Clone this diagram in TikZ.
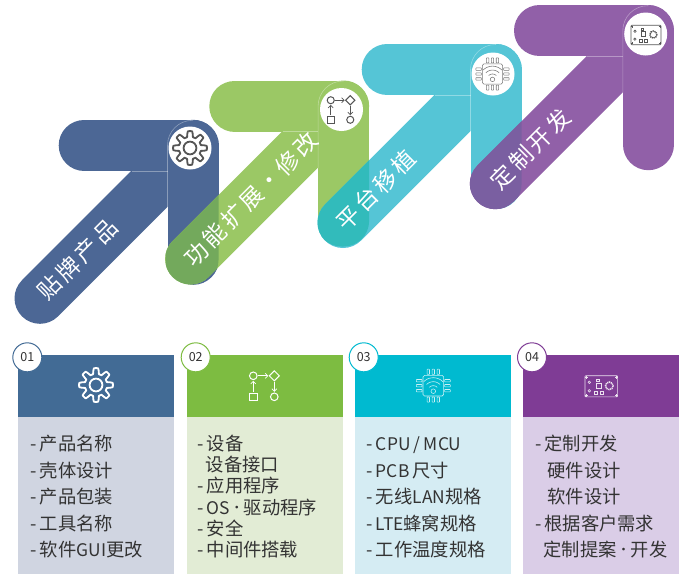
\documentclass[tikz,border=0pt]{standalone}
\usepackage{fontspec}
\setmainfont[WordSpace=0.7]{Noto Sans CJK SC}
\newfontfamily\labelfont[LetterSpace=14]{Noto Sans CJK SC}
\newfontfamily\latfont[Scale=0.95,WordSpace=0.85]{Noto Sans CJK SC}
\newcommand\lt[1]{{\latfont #1}}
\newcommand\middot{\makebox[14pt]{\raisebox{1.8pt}{\fontsize{13}{13}\selectfont •}}}
\usetikzlibrary{arrows.meta}
\definecolor{blueA}{HTML}{4C6795}
\definecolor{greenA}{HTML}{9BC865}
\definecolor{tealA}{HTML}{55C5D6}
\definecolor{purpA}{HTML}{9160A8}
\definecolor{ovGreen}{HTML}{73A95C}
\definecolor{ovTeal}{HTML}{32BBBB}
\definecolor{ovPurp}{HTML}{7A5FA1}
\definecolor{headA}{HTML}{426B95}
\definecolor{headB}{HTML}{7DBC41}
\definecolor{headC}{HTML}{00BAD0}
\definecolor{headD}{HTML}{7F3C95}
\definecolor{bodyA}{HTML}{D0D5E1}
\definecolor{bodyB}{HTML}{E2ECD5}
\definecolor{bodyC}{HTML}{D5ECF3}
\definecolor{bodyD}{HTML}{DACDE7}
\definecolor{ink}{HTML}{333333}
\definecolor{iconGray}{HTML}{555555}
\tikzset{
  band/.style={line width=51pt,line cap=round,line join=round},
  seam/.style={draw=white,draw opacity=.35,line width=.6pt},
  slogan/.style={text=white,rotate=45,font=\labelfont\fontsize{23}{23}\selectfont,inner sep=0pt},
  itemtext/.style={text=ink,anchor=base west,font=\fontsize{18.3}{18.3}\selectfont,inner sep=0pt},
  badge/.style={circle,fill=white,line width=1pt,minimum size=29pt,inner sep=0pt,text=ink,font=\fontsize{12.5}{12.5}\selectfont},
  iconcircle/.style={circle,fill=white,minimum size=43pt,inner sep=0pt},
  arrowline/.style={-{Straight Barb[length=2.6pt,width=5pt]}}
}
% corner x, corner y, colour
\newcommand\bandshape[3]{%
  \draw[band,#3] ({#1-108.8},#2) -- (#1,#2) -- (#1,{#2+114});
  \draw[band,#3] ({#1-153},{#2+153}) -- (#1,#2);
}
\newcommand\bandseam[2]{%
  \draw[seam] ({#1-61},{#2+25.5}) -- ({#1-25.5},{#2+25.5});
  \draw[seam,rounded corners=25pt] ({#1-25.5},{#2+62}) -- ({#1-25.5},{#2-25}) -- (#1,{#2-25});
}
% previous corner x,y ; own corner x,y ; overlap colour
\newcommand\bandoverlap[5]{%
  \begin{scope}
    \clip[rounded corners=25.5pt] ({#1-27.5},{#2-25.5}) rectangle ({#1+25.5},{#2+140.5});
    \draw[band,#5] ({#3-153},{#4+153}) -- (#3,#4);
  \end{scope}
}
\newcommand\gearicon[3]{%
  \begin{scope}[shift={(#1,#2)}]
    \draw[#3,line width=1.8pt,line join=round] plot[domain=0:360,samples=145] (\x:{14+2.9*max(-1,min(1,1.9*cos(8*\x)))}) -- cycle;
    \draw[#3,line width=1.8pt] (0,0) circle[radius=6.4];
  \end{scope}}
\newcommand\flowicon[4]{%
  \begin{scope}[shift={(#1,#2)},scale=#4,#3,line width=1pt]
    \draw (-10.5,-10.5) circle[radius=3.8];
    \draw (10.5,-15.5) -- (15.5,-10.5) -- (10.5,-5.5) -- (5.5,-10.5) -- cycle;
    \draw (-14.3,6.7) rectangle (-6.7,14.3);
    \draw (10.5,10.5) circle[radius=3.8];
    \draw[arrowline,line width=.7pt] (-6,-10.5) -- (4.5,-10.5);
    \draw[arrowline,line width=.7pt] (-10.5,5.5) -- (-10.5,-5.5);
    \draw[arrowline,line width=.7pt] (10.5,-4.5) -- (10.5,5.5);
  \end{scope}}
\newcommand\chipicon[4]{%
  \begin{scope}[shift={(#1,#2)},scale=#4,#3,line width=.55pt]
    \draw[rounded corners=1.5pt] (-10.3,-10.3) rectangle (10.3,10.3);
    \foreach \p in {-5,0,5}{
      \draw[rounded corners=.5pt] ({\p-1.2},-16.5) rectangle ({\p+1.2},-11.3);
      \draw[rounded corners=.5pt] ({\p-1.2},11.3) rectangle ({\p+1.2},16.5);
      \draw[rounded corners=.5pt] (-17,{\p-1.2}) rectangle (-11.3,{\p+1.2});
      \draw[rounded corners=.5pt] (11.3,{\p-1.2}) rectangle (17,{\p+1.2});
    }
    \draw (0,5.5) circle[radius=2.3];
    \foreach \r in {5.5,9.5,13.5}{
      \draw plot[domain=225:315,samples=13,smooth] ({\r*cos(\x)},{5.5+\r*sin(\x)});
    }
  \end{scope}}
\newcommand\pcbicon[4]{%
  \begin{scope}[shift={(#1,#2)},scale=#4,#3,line width=.6pt]
    \draw[rounded corners=.8pt] (-16.3,-10.6) rectangle (16.3,10.6);
    \foreach \a/\b in {-15/-9,15/-9,-15/9,15/9}{
      \draw (\a-1.2,\b) -- (\a+1.2,\b) (\a,\b-1.2) -- (\a,\b+1.2);
    }
    \draw (-12,-4) circle[radius=1.3] (-12,4.5) circle[radius=1.3];
    \draw (-5.5,-3.5) rectangle (-.5,1.5);
    \draw (-5,-7) rectangle (-2.5,-5);
    \draw (-7,4.8) rectangle (-4.5,7.5) (-1.5,4.8) rectangle (1.5,7.5);
    \draw[line width=1.5pt,dash pattern=on 1.2pt off .7pt] (8,-.5) circle[radius=3.8];
  \end{scope}}
\newcommand\panel[4]{%
  \fill[#4] (#1,417) rectangle ({#1+156},574);
  \fill[#3] (#1,355) rectangle ({#1+156},417);
}
\begin{document}
\begin{tikzpicture}[x=1pt,y=-1pt]
\useasboundingbox (0,0) rectangle (685,574);
\fill[white] (0,0) rectangle (685,574);
% bands
\bandshape{193}{145.3}{blueA}
\bandseam{193}{145.3}
\bandshape{343.6}{106}{greenA}
\bandoverlap{193}{145.3}{343.6}{106}{ovGreen}
\bandseam{343.6}{106}
\bandshape{496}{69.5}{tealA}
\bandoverlap{343.6}{106}{496}{69.5}{ovTeal}
\bandseam{496}{69.5}
\bandshape{648.3}{30.7}{purpA}
\bandoverlap{496}{69.5}{648.3}{30.7}{ovPurp}
\bandseam{648.3}{30.7}
% slogans
\node[slogan] (s1) at (77.5,259.5) {贴牌产品};
\node[slogan] (s2) at (251,199) {功能扩展\hspace{2pt}·\hspace{2pt}修改};
\node[slogan] (s3) at (376,190) {平台移植};
\node[slogan] (s4) at (530.5,149) {定制开发};
% icon discs
\node[iconcircle] (c1) at (190,148) {};
\node[iconcircle] (c2) at (341.5,109.5) {};
\node[iconcircle] (c3) at (493,74) {};
\node[iconcircle] (c4) at (645.7,34) {};
\gearicon{190}{148}{iconGray}
\flowicon{340.5}{110}{iconGray}{.93}
\chipicon{492.5}{74}{iconGray!80}{.98}
\pcbicon{646}{35}{iconGray}{.92}
% panels
\panel{18}{}{headA}{bodyA}
\panel{187}{}{headB}{bodyB}
\panel{355}{}{headC}{bodyC}
\panel{523}{}{headD}{bodyD}
\node[badge,draw=headA] (b1) at (27.3,357.3) {01};
\node[badge,draw=headB] (b2) at (195.7,357.3) {02};
\node[badge,draw=headC] (b3) at (363.7,357.3) {03};
\node[badge,draw=headD] (b4) at (532,357.3) {04};
\gearicon{96}{385}{white}
\flowicon{263.8}{386.3}{white}{1}
\chipicon{433.3}{385.7}{white!80!headC}{1}
\pcbicon{601.3}{386.3}{white!85!headD}{1}
% panel 1
\node[itemtext] (a1) at (30.5,450) {- 产品名称};
\node[itemtext] (a2) at (30.5,477) {- 壳体设计};
\node[itemtext] (a3) at (30.5,503.5) {- 产品包装};
\node[itemtext] (a4) at (30.5,530) {- 工具名称};
\node[itemtext] (a5) at (30.5,556.5) {- 软件\lt{GUI}更改};
% panel 2
\node[itemtext] (e1) at (197.3,450) {- 设备};
\node[itemtext] (e2) at (205.5,471.3) {设备接口};
\node[itemtext] (e3) at (197.3,492.8) {- 应用程序};
\node[itemtext] (e4) at (197.3,514) {- \lt{OS}\middot 驱动程序};
\node[itemtext] (e5) at (197.3,535.3) {- 安全};
\node[itemtext] (e6) at (197.3,556.8) {- 中间件搭载};
% panel 3
\node[itemtext] (f1) at (366.5,450) {- \lt{CPU / MCU}};
\node[itemtext] (f2) at (366.5,477) {- \lt{PCB} 尺寸};
\node[itemtext] (f3) at (366.5,503.5) {- 无线\lt{LAN}规格};
\node[itemtext] (f4) at (366.5,530) {- \lt{LTE}蜂窝规格};
\node[itemtext] (f5) at (366.5,556.5) {- 工作温度规格};
% panel 4
\node[itemtext] (g1) at (535,450) {- 定制开发};
\node[itemtext] (g2) at (547.3,477) {硬件设计};
\node[itemtext] (g3) at (547.3,503.5) {软件设计};
\node[itemtext] (g4) at (535,530) {- 根据客户需求};
\node[itemtext] (g5) at (543.3,556.5) {定制提案\middot 开发};
\end{tikzpicture}
\end{document}
